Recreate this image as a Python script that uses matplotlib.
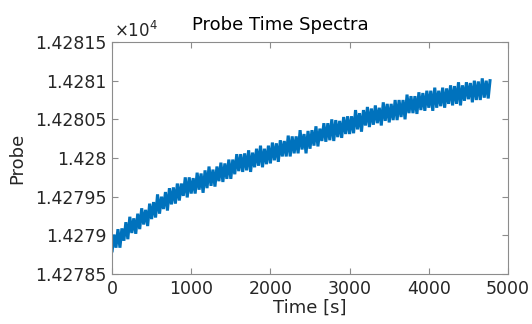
import matplotlib
matplotlib.use('Agg')
import matplotlib.pyplot as plt
from matplotlib.ticker import FuncFormatter

# probe trace; the record swings low/high every 25 s
sample_step = 25
probe = [14278.78, 14279.01, 14278.84, 14279.08, 14278.84, 14279.09, 14278.93, 14279.17, 14278.95, 14279.24,
         14279.03, 14279.22, 14279.02, 14279.28, 14279.08, 14279.35, 14279.14, 14279.33, 14279.12, 14279.41,
         14279.21, 14279.43, 14279.23, 14279.53, 14279.28, 14279.50, 14279.34, 14279.56, 14279.32, 14279.61,
         14279.40, 14279.62, 14279.41, 14279.67, 14279.45, 14279.67, 14279.51, 14279.75, 14279.49, 14279.75,
         14279.54, 14279.74, 14279.54, 14279.81, 14279.59, 14279.80, 14279.55, 14279.84, 14279.61, 14279.89,
         14279.64, 14279.85, 14279.63, 14279.89, 14279.70, 14279.94, 14279.69, 14279.93, 14279.73, 14279.98,
         14279.73, 14279.98, 14279.79, 14280.05, 14279.83, 14280.05, 14279.82, 14280.06, 14279.84, 14280.10,
         14279.82, 14280.07, 14279.88, 14280.12, 14279.90, 14280.16, 14279.88, 14280.12, 14279.92, 14280.16,
         14279.93, 14280.20, 14279.97, 14280.19, 14279.95, 14280.23, 14280.02, 14280.22, 14280.02, 14280.29,
         14280.02, 14280.28, 14280.06, 14280.28, 14280.06, 14280.36, 14280.11, 14280.31, 14280.06, 14280.35,
         14280.12, 14280.36, 14280.16, 14280.41, 14280.15, 14280.38, 14280.22, 14280.45, 14280.21, 14280.45,
         14280.23, 14280.50, 14280.22, 14280.49, 14280.27, 14280.48, 14280.26, 14280.53, 14280.31, 14280.54,
         14280.31, 14280.54, 14280.32, 14280.62, 14280.37, 14280.58, 14280.34, 14280.62, 14280.42, 14280.66,
         14280.40, 14280.64, 14280.43, 14280.68, 14280.45, 14280.65, 14280.42, 14280.72, 14280.48, 14280.70,
         14280.46, 14280.70, 14280.49, 14280.75, 14280.49, 14280.75, 14280.53, 14280.75, 14280.50, 14280.82,
         14280.58, 14280.80, 14280.58, 14280.80, 14280.57, 14280.85, 14280.62, 14280.84, 14280.61, 14280.87,
         14280.65, 14280.87, 14280.61, 14280.91, 14280.65, 14280.87, 14280.67, 14280.91, 14280.65, 14280.90,
         14280.70, 14280.94, 14280.68, 14280.93, 14280.70, 14280.98, 14280.68, 14280.94, 14280.74, 14280.98,
         14280.76, 14280.97, 14280.72, 14281.00, 14280.75, 14280.99, 14280.75, 14281.03, 14280.78, 14281.00,
         14280.77, 14281.02]
time_s = [sample_step * i for i in range(len(probe))]

x_ticks = [0, 1000, 2000, 3000, 4000, 5000]
y_ticks = [14278.5, 14279.0, 14279.5, 14280.0, 14280.5, 14281.0, 14281.5]

plt.rcParams['font.family'] = 'DejaVu Sans'
fig = plt.figure(figsize=(5.32, 3.24), dpi=100)
ax = fig.add_axes([112 / 532, 1 - 274 / 324, 396 / 532, 232 / 324])

blue = '#0072BD'
ax.plot(time_s, probe, color=blue, linewidth=2.2, solid_joinstyle='bevel',
        solid_capstyle='butt')

ax.set_xlim(0, 5000)
ax.set_ylim(14278.5, 14281.5)
ax.set_xticks(x_ticks)
ax.set_yticks(y_ticks)
ax.yaxis.set_major_formatter(FuncFormatter(lambda v, p: ('%.5f' % (v / 1e4)).rstrip('0')))

txt = '#262626'
for s in ax.spines.values():
    s.set_color('#8c8c8c')
    s.set_linewidth(0.8)
ax.tick_params(direction='in', top=True, right=True, length=4, width=0.8,
               color='#8c8c8c', labelcolor=txt, labelsize=12.5, pad=4)

fig.text(280 / 532, 1 - 30 / 324, 'Probe Time Spectra', fontsize=13, color='black',
         ha='center', va='baseline')
ax.set_xlabel('Time [s]', fontsize=13, color=txt, labelpad=1)
ax.set_ylabel('Probe', fontsize=13, color=txt, labelpad=6)
ax.text(0.005, 1.005, r'$\times10^4$', transform=ax.transAxes, fontsize=12,
        color=txt, ha='left', va='bottom')

fig.savefig('out.png', dpi=100)
